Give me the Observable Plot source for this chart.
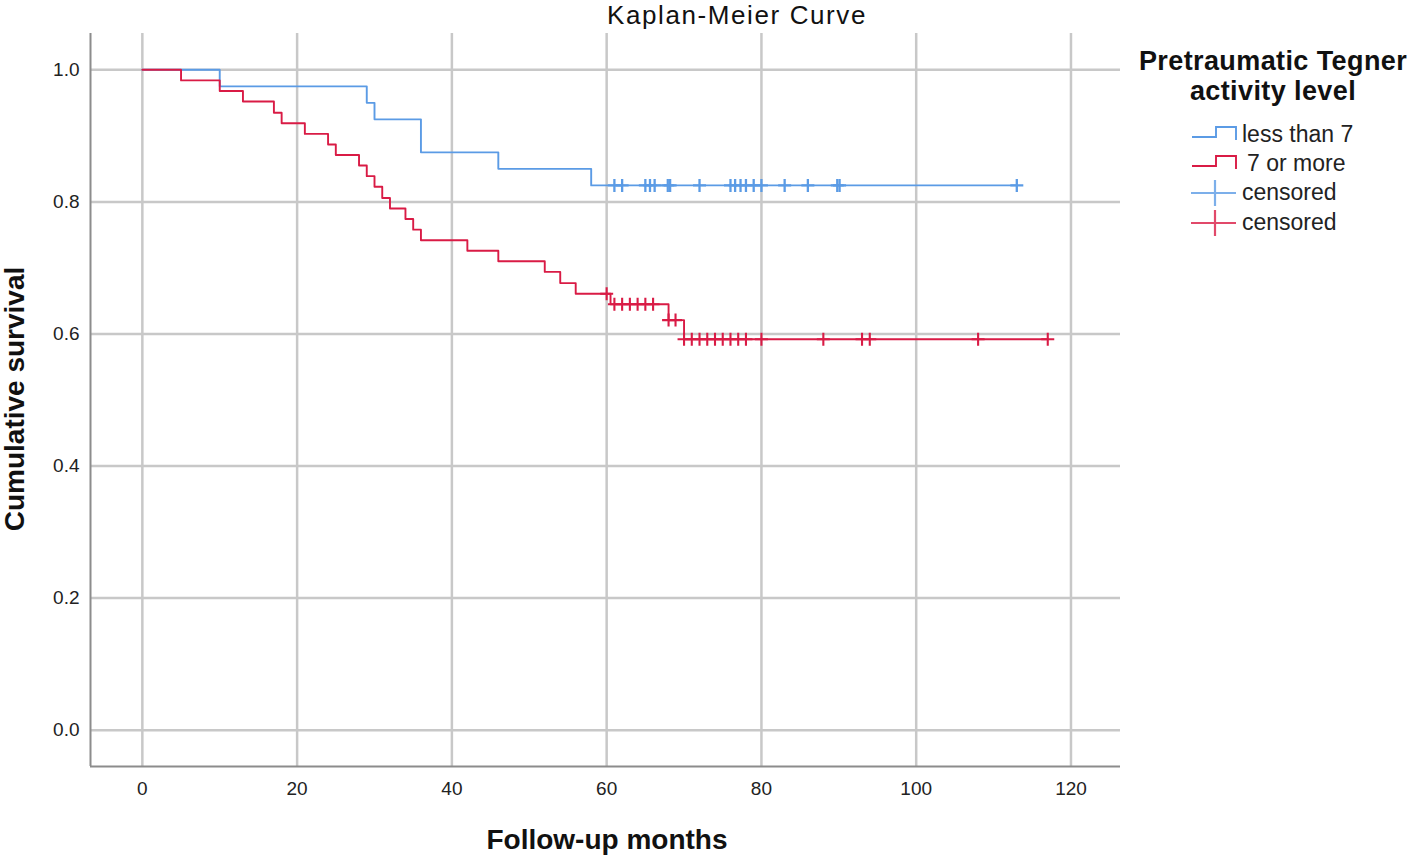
<!DOCTYPE html>
<html><head><meta charset="utf-8">
<script src="https://cdn.jsdelivr.net/npm/d3@7"></script>
<script src="https://cdn.jsdelivr.net/npm/@observablehq/plot@0.6"></script>
<style>
html,body{margin:0;padding:0;background:#fff;}
#wrap{position:relative;width:1416px;height:858px;overflow:hidden;font-family:"Liberation Sans",Arial,sans-serif;}
#wrap > svg{position:absolute;left:0;top:0;}
</style></head><body><div id="wrap"></div>
<script>
// ---- data ----
const chartTitle = "Kaplan-Meier Curve";
const xLabel = "Follow-up months";
const yLabel = "Cumulative survival";
const legendTitle = ["Pretraumatic Tegner", "activity level"];
const groupNames = ["less than 7", "7 or more"];
const censoredName = "censored";
const groupColors = ["#5b9be5", "#d91b45"];

const xTicks = [0, 20, 40, 60, 80, 100, 120];
const yTicks = [0, 0.2, 0.4, 0.6, 0.8, 1.0];
const xDomain = [-6.7, 126.4];
const yDomain = [-0.055, 1.055];

// group "less than 7": step times and survival after each step
const lowTimes = [0, 10, 29, 30, 36, 46, 58, 113];
const lowSurv  = [1, 0.975, 0.95, 0.925, 0.875, 0.85, 0.825, 0.825];
const lowCensTimes = [61, 62, 65, 65.6, 66.2, 67.9, 68.2, 72, 76, 76.6, 77.3, 78, 79, 80, 83, 86, 89.8, 90.1, 113];
const lowCensSurv  = [0.825, 0.825, 0.825, 0.825, 0.825, 0.825, 0.825, 0.825, 0.825, 0.825, 0.825, 0.825, 0.825, 0.825, 0.825, 0.825, 0.825, 0.825, 0.825];

// group "7 or more"
const highTimes = [0, 5, 10, 13, 17, 18, 21, 24, 25, 28, 29, 30, 31, 32, 34, 35, 36, 42, 46, 52, 54, 56, 60.5, 68, 70, 117];
const highSurv  = [1, 0.984, 0.968, 0.952, 0.935, 0.919, 0.903, 0.887, 0.871, 0.855, 0.839, 0.823, 0.806, 0.790, 0.774, 0.758, 0.742, 0.726, 0.710, 0.694, 0.677, 0.661, 0.645, 0.621, 0.592, 0.592];
const highCensTimes = [60, 61, 62, 63, 64, 65, 66, 68, 68.9, 70, 71, 72, 73, 74, 75, 76, 77, 78, 80, 88, 93, 94, 108, 117];
const highCensSurv  = [0.661, 0.645, 0.645, 0.645, 0.645, 0.645, 0.645, 0.621, 0.621, 0.592, 0.592, 0.592, 0.592, 0.592, 0.592, 0.592, 0.592, 0.592, 0.592, 0.592, 0.592, 0.592, 0.592, 0.592];

// ---- build tables ----
const toRows = (ts, ss) => ts.map((t, i) => ({t, s: ss[i]}));
const lowLine = toRows(lowTimes, lowSurv);
const highLine = toRows(highTimes, highSurv);
const lowCens = toRows(lowCensTimes, lowCensSurv);
const highCens = toRows(highCensTimes, highCensSurv);

const crossSymbol = {
  draw(ctx, size) {
    const r = Math.sqrt(size / Math.PI);
    ctx.moveTo(-r, 0); ctx.lineTo(r, 0);
    ctx.moveTo(0, -r); ctx.lineTo(0, r);
  }
};

const gridStyle = {stroke: "#c8c8c8", strokeOpacity: 1, strokeWidth: 2.5};
const lineW = 1.9;

const chart = Plot.plot({
  width: 1416, height: 858,
  marginLeft: 90, marginRight: 296, marginTop: 33, marginBottom: 92,
  style: {fontFamily: "'Liberation Sans', Arial, sans-serif", fontSize: "19px", color: "#222", background: "white"},
  x: {domain: xDomain},
  y: {domain: yDomain},
  marks: [
    Plot.gridX(xTicks, gridStyle),
    Plot.gridY(yTicks, gridStyle),
    Plot.ruleX([xDomain[0]], {stroke: "#8c8c8c", strokeWidth: 2}),
    Plot.ruleY([yDomain[0]], {stroke: "#8c8c8c", strokeWidth: 2}),
    Plot.axisX(xTicks, {tickSize: 0, tickPadding: 15, label: null, fill: "#222"}),
    Plot.axisY(yTicks, {tickSize: 0, tickPadding: 11, label: null, tickFormat: d3.format(".1f"), fill: "#222"}),
    Plot.line(lowLine, {x: "t", y: "s", curve: "step-after", stroke: groupColors[0], strokeWidth: lineW}),
    Plot.line(highLine, {x: "t", y: "s", curve: "step-after", stroke: groupColors[1], strokeWidth: lineW}),
    Plot.dot(lowCens, {x: "t", y: "s", symbol: crossSymbol, r: 6.5, fill: "none", stroke: groupColors[0], strokeWidth: 2.3}),
    Plot.dot(highCens, {x: "t", y: "s", symbol: crossSymbol, r: 6.5, fill: "none", stroke: groupColors[1], strokeWidth: 2.1})
  ]
});
document.getElementById("wrap").appendChild(chart);

// ---- overlay: title, axis titles, legend ----
const ov = d3.select("#wrap").append("svg")
  .attr("width", 1416).attr("height", 858)
  .style("font-family", "'Liberation Sans', Arial, sans-serif")
  .style("pointer-events", "none");

ov.append("text").attr("x", 737).attr("y", 24).attr("text-anchor", "middle")
  .attr("font-size", 26).attr("letter-spacing", 1.6).attr("fill", "#111").text(chartTitle);

ov.append("text").attr("x", 607).attr("y", 849).attr("text-anchor", "middle")
  .attr("font-size", 28).attr("font-weight", "bold").attr("fill", "#111").text(xLabel);

ov.append("text").attr("transform", "translate(24,399) rotate(-90)").attr("text-anchor", "middle")
  .attr("font-size", 28).attr("font-weight", "bold").attr("fill", "#111").text(yLabel);

legendTitle.forEach((line, i) => {
  ov.append("text").attr("x", 1273).attr("y", 70 + i * 30).attr("text-anchor", "middle")
    .attr("font-size", 27).attr("font-weight", "bold").attr("letter-spacing", 0.4).attr("fill", "#111").text(line);
});

const lg = ov.append("g");
const itemY = [142, 171, 200, 230];
// step symbols
groupColors.forEach((c, i) => {
  const yb = itemY[i] - 5, yt = yb - 10;
  lg.append("path").attr("d", `M1192,${yb}H1216V${yt}H1236V${yb + 3}`)
    .attr("fill", "none").attr("stroke", c).attr("stroke-width", lineW);
});
// censored symbols
groupColors.forEach((c, i) => {
  const yc = itemY[i + 2] - 7;
  lg.append("path").attr("d", `M1191,${yc}H1236M1215,${yc - 13}V${yc + 13}`)
    .attr("fill", "none").attr("stroke", c).attr("stroke-width", 2.2).attr("stroke-opacity", 0.8);
});
const itemText = [groupNames[0], groupNames[1], censoredName, censoredName];
const itemX = [1242, 1247, 1242, 1242];
itemText.forEach((t, i) => {
  lg.append("text").attr("x", itemX[i]).attr("y", itemY[i]).attr("font-size", 23)
    .attr("fill", "#222").text(t);
});
</script>
</body></html>
